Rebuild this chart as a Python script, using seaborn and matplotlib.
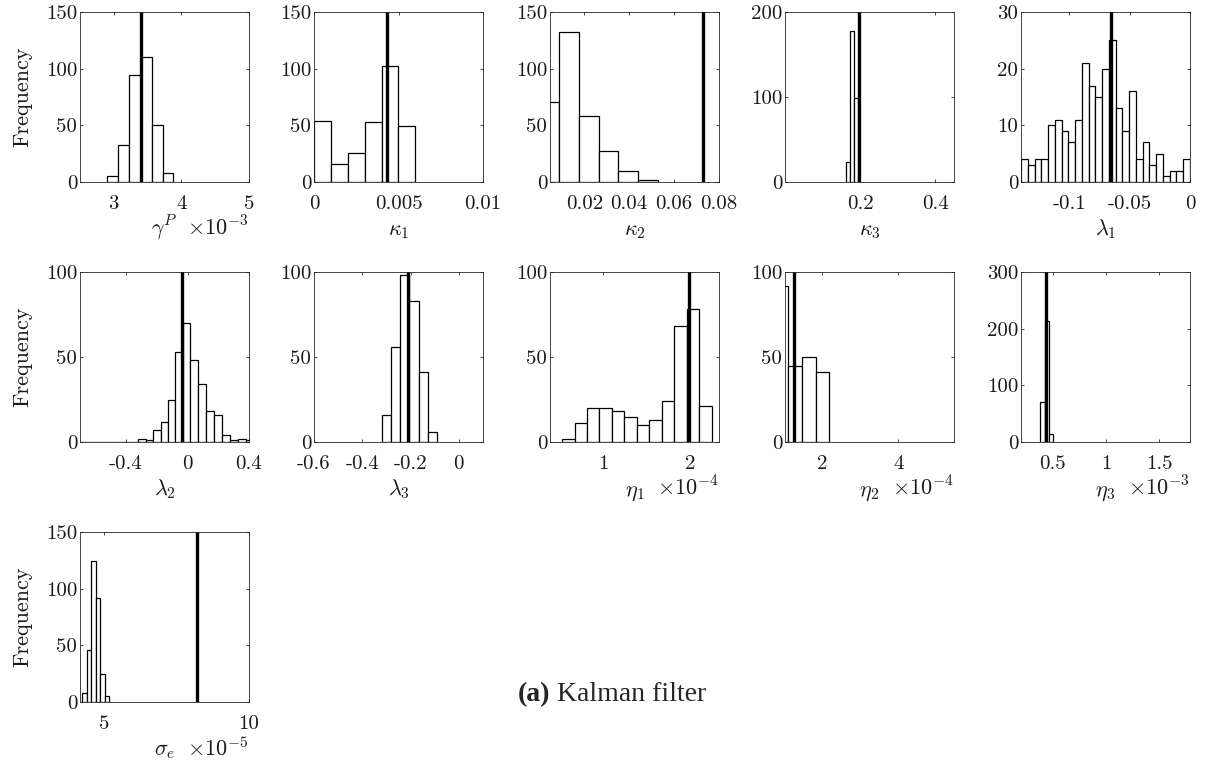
import numpy as np
import pandas as pd
import matplotlib
matplotlib.use("Agg")
import matplotlib.pyplot as plt
from matplotlib.ticker import FixedLocator, FuncFormatter
import seaborn as sns

# ---------------- data (histogram bin edges, counts, true value) ----------------
gammaP_edges = [2.898, 3.063, 3.231, 3.396, 3.560, 3.724, 3.883]
gammaP_counts = [5, 33, 94, 110, 50, 8]
gammaP_true = 3.403

kappa1_edges = [0.0, 0.001, 0.002, 0.003, 0.004, 0.005, 0.006]
kappa1_counts = [54, 16, 26, 53, 102, 49]
kappa1_true = 0.00429

kappa2_edges = [0.0, 0.0088, 0.0176, 0.0264, 0.0352, 0.0440, 0.0528]
kappa2_counts = [71, 132, 58, 27, 10, 2]
kappa2_true = 0.0728

kappa3_edges = [0.162, 0.1724, 0.1828, 0.1932]
kappa3_counts = [23, 178, 99]
kappa3_true = 0.198

lambda1_edges = [-0.14, -0.1344, -0.1288, -0.1232, -0.1176, -0.112, -0.1064, -0.1008,
                 -0.0952, -0.0896, -0.084, -0.0784, -0.0728, -0.0672, -0.0616, -0.056,
                 -0.0504, -0.0448, -0.0392, -0.0336, -0.028, -0.0224, -0.0168, -0.0112,
                 -0.0056, 0.0]
lambda1_counts = [4, 3, 4, 4, 10, 11, 9, 7, 11, 21, 17, 15, 20, 25, 13, 9, 16, 4, 7, 3,
                  5, 1, 2, 2, 4]
lambda1_true = -0.0657

lambda2_edges = [-0.72, -0.67, -0.62, -0.57, -0.52, -0.47, -0.42, -0.37, -0.32, -0.272,
                 -0.224, -0.176, -0.128, -0.08, -0.032, 0.018, 0.069, 0.121, 0.173,
                 0.225, 0.277, 0.327, 0.378, 0.43]
lambda2_counts = [0, 0, 0, 0, 0, 0, 0, 0, 2, 1, 7, 12, 25, 53, 70, 48, 34, 18, 16, 4, 1,
                  2, 1]
lambda2_true = -0.038

lambda3_edges = [-0.32, -0.282, -0.243, -0.205, -0.167, -0.128, -0.09]
lambda3_counts = [16, 56, 98, 83, 41, 6]
lambda3_true = -0.21

eta1_edges = [0.530, 0.673, 0.816, 0.958, 1.101, 1.244, 1.387, 1.530, 1.672, 1.815,
              1.958, 2.101, 2.244]
eta1_counts = [2, 11, 20, 20, 18, 15, 10, 13, 24, 68, 78, 21]
eta1_true = 1.99

eta2_edges = [0.745, 1.105, 1.465, 1.825, 2.185]
eta2_counts = [92, 45, 50, 41]
eta2_true = 1.255

eta3_edges = [0.383, 0.422, 0.461, 0.500]
eta3_counts = [71, 214, 15]
eta3_true = 0.437

sigmae_edges = [4.24, 4.395, 4.55, 4.705, 4.86, 5.015, 5.17]
sigmae_counts = [8, 46, 124, 92, 25, 5]
sigmae_true = 8.22

labels = [r"$\gamma^P$", r"$\kappa_1$", r"$\kappa_2$", r"$\kappa_3$", r"$\lambda_1$",
          r"$\lambda_2$", r"$\lambda_3$", r"$\eta_1$", r"$\eta_2$", r"$\eta_3$",
          r"$\sigma_e$"]
scales = [r"$\times10^{-3}$", None, None, None, None, None, None,
          r"$\times10^{-4}$", r"$\times10^{-4}$", r"$\times10^{-3}$", r"$\times10^{-5}$"]
xticks = [[3, 4, 5], [0, 0.005, 0.01], [0.02, 0.04, 0.06, 0.08], [0.2, 0.4],
          [-0.1, -0.05, 0], [-0.4, 0, 0.4], [-0.6, -0.4, -0.2, 0], [1, 2], [2, 4],
          [0.5, 1, 1.5], [5, 10]]
xlims = [(2.5, 5), (0, 0.01), (0.0047, 0.08), (0, 0.45), (-0.14, 0), (-0.7, 0.4),
         (-0.6, 0.1), (0.39, 2.33), (1.02, 5.47), (0.2, 1.79), (4.16, 10)]
yticks = [[0, 50, 100, 150], [0, 50, 100, 150], [0, 50, 100, 150], [0, 100, 200],
          [0, 10, 20, 30], [0, 50, 100], [0, 50, 100], [0, 50, 100], [0, 50, 100],
          [0, 100, 200, 300], [0, 50, 100, 150]]
caption_bold = "(a)"
caption_text = "Kalman filter"

panels = [
    (gammaP_edges, gammaP_counts, gammaP_true),
    (kappa1_edges, kappa1_counts, kappa1_true),
    (kappa2_edges, kappa2_counts, kappa2_true),
    (kappa3_edges, kappa3_counts, kappa3_true),
    (lambda1_edges, lambda1_counts, lambda1_true),
    (lambda2_edges, lambda2_counts, lambda2_true),
    (lambda3_edges, lambda3_counts, lambda3_true),
    (eta1_edges, eta1_counts, eta1_true),
    (eta2_edges, eta2_counts, eta2_true),
    (eta3_edges, eta3_counts, eta3_true),
    (sigmae_edges, sigmae_counts, sigmae_true),
]

# ---------------- style ----------------
sns.set_theme(style="white")
plt.rcParams["font.family"] = ["cmr10"]
plt.rcParams["mathtext.fontset"] = "cm"
plt.rcParams["axes.unicode_minus"] = False
plt.rcParams["axes.formatter.use_mathtext"] = True

W, H = 1207, 770
fig = plt.figure(figsize=(W / 100, H / 100), dpi=100)
fig.patch.set_facecolor("white")

col_left = [80, 314, 550, 785, 1021]
row_top = [12, 272, 532]
ax_w, ax_h = 169, 170
axis_col = "#262626"
label_y = -0.315


def fmt(v, pos):
    s = f"{v:g}"
    return "0" if s in ("-0", "0") else s


for i, (edges, counts, true_val) in enumerate(panels):
    r, c = divmod(i, 5)
    left = col_left[c] / W
    bottom = (H - row_top[r] - ax_h) / H
    ax = fig.add_axes([left, bottom, ax_w / W, ax_h / H])
    e = [float(v) for v in edges]
    centers = [(a + b) / 2 for a, b in zip(e[:-1], e[1:])]
    df = pd.DataFrame({"value": centers, "count": [float(n) for n in counts]})
    sns.histplot(data=df, x="value", weights="count", bins=e, ax=ax, color="white",
                 edgecolor="black", linewidth=0.9, alpha=1, zorder=2)
    ax.axvline(true_val, color="black", linewidth=2.4, zorder=3)
    ax.set_xlim(*xlims[i])
    ax.set_ylim(0, yticks[i][-1])
    ax.xaxis.set_major_locator(FixedLocator(xticks[i]))
    ax.yaxis.set_major_locator(FixedLocator(yticks[i]))
    ax.xaxis.set_major_formatter(FuncFormatter(fmt))
    ax.yaxis.set_major_formatter(FuncFormatter(fmt))
    ax.tick_params(axis="both", direction="in", length=2.5, width=0.6,
                   colors=axis_col, labelcolor="#1a1a1a", labelsize=15,
                   top=True, right=True, bottom=True, left=True)
    ax.tick_params(axis="x", pad=9.5)
    ax.tick_params(axis="y", pad=2)
    for sp in ax.spines.values():
        sp.set_color(axis_col)
        sp.set_linewidth(0.6)
        sp.set_zorder(4)
    ax.set_xlabel(labels[i], fontsize=16, va="baseline", color="#1a1a1a")
    ax.xaxis.set_label_coords(0.5, label_y)
    if scales[i]:
        ax.text(1.0, label_y, scales[i], transform=ax.transAxes, ha="right",
                va="baseline", fontsize=16, color="#1a1a1a")
    if c == 0:
        ax.set_ylabel("Frequency", fontsize=16, color="#1a1a1a")
        ax.yaxis.set_label_coords(-0.284, 0.5)
    else:
        ax.set_ylabel("")

fig.text(518 / W, (H - 701) / H, caption_bold, fontsize=20, fontweight="bold",
         family="Liberation Serif", ha="left", va="baseline")
fig.text(557 / W, (H - 701) / H, caption_text, fontsize=20,
         family="Liberation Serif", ha="left", va="baseline")

fig.savefig("out.png", dpi=100, facecolor="white")
